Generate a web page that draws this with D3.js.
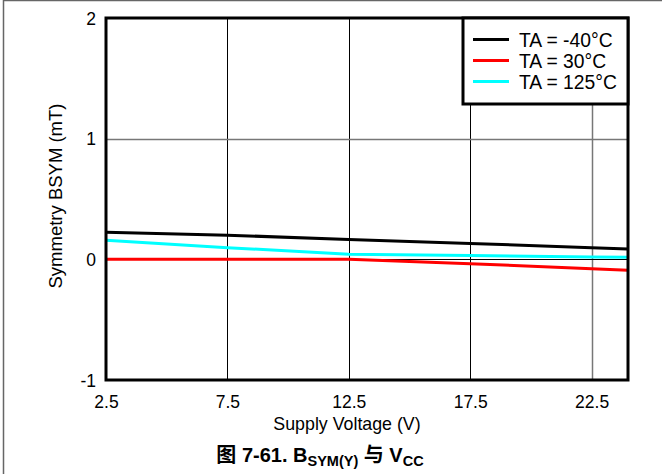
<!DOCTYPE html>
<html>
<head>
<meta charset="utf-8">
<script src="https://cdn.jsdelivr.net/npm/d3@7"></script>
<style>
  body { margin: 0; background: #fff; }
  svg { display: block; font-family: "Liberation Sans", Arial, sans-serif; }
</style>
</head>
<body>
<div class="chartdiv"></div>
<script>
// supply voltage points (V)
const vcc = [2.5, 7.5, 12.5, 17.5, 22.5, 24]
// symmetry BSYM (mT) per temperature
const symM40 = [0.225, 0.200, 0.165, 0.132, 0.095, 0.085]
const sym30 = [0.0, 0.0, 0.0, -0.036, -0.078, -0.090]
const sym125 = [0.158, 0.097, 0.042, 0.032, 0.020, 0.018]

const seriesNames = ['TA = -40°C', 'TA = 30°C', 'TA = 125°C']
const seriesColors = ['#000000', '#ff0000', '#00ffff']
const xTicks = [2.5, 7.5, 12.5, 17.5, 22.5]
const yTicks = [-1, 0, 1, 2]

let w = 662, h = 474
let pLeft = 106, pRight = 628, pTop = 18, pBottom = 380

let svg = d3.select('.chartdiv').append('svg')
    .attr('width', w)
    .attr('height', h)

// outer figure frame (left and top edges only visible)
svg.append('path')
    .attr('d', 'M3.5,' + h + ' V0.5 H' + w)
    .attr('fill', 'none')
    .attr('stroke', '#666')
    .attr('stroke-width', 1.5)

let xScale = d3.scaleLinear().domain([2.5, 24]).range([pLeft, pRight])
let yScale = d3.scaleLinear().domain([-1, 2]).range([pBottom, pTop])

// grid lines
let grid = svg.append('g').attr('class', 'grid')
grid.selectAll('.vgrid')
    .data(xTicks.slice(1))
    .enter()
    .append('line')
    .attr('x1', d => Math.round(xScale(d)) + 0.5)
    .attr('x2', d => Math.round(xScale(d)) + 0.5)
    .attr('y1', pTop)
    .attr('y2', pBottom)
    .attr('stroke', d => d == 22.5 ? '#777' : '#000')
    .attr('stroke-width', d => d == 22.5 ? 1.5 : 1)

grid.selectAll('.hgrid')
    .data([0, 1])
    .enter()
    .append('line')
    .attr('x1', pLeft)
    .attr('x2', pRight)
    .attr('y1', d => Math.round(yScale(d)) + 0.5)
    .attr('y2', d => Math.round(yScale(d)) + 0.5)
    .attr('stroke', d => d == 1 ? '#777' : '#000')
    .attr('stroke-width', d => d == 1 ? 1.5 : 1)

// data lines
let allSeries = [symM40, sym30, sym125]
let line = d3.line()
    .x((d, i) => xScale(vcc[i]))
    .y(d => yScale(d))

// draw red first, then cyan, then black on top
;[1, 2, 0].forEach(k => {
    svg.append('path')
        .datum(allSeries[k])
        .attr('fill', 'none')
        .attr('stroke', seriesColors[k])
        .attr('stroke-width', 3)
        .attr('d', line)
})

// plot frame
svg.append('rect')
    .attr('x', pLeft)
    .attr('y', pTop)
    .attr('width', pRight - pLeft)
    .attr('height', pBottom - pTop)
    .attr('fill', 'none')
    .attr('stroke', '#000')
    .attr('stroke-width', 3)

// axes (labels only, frame drawn above)
let xAxis = d3.axisBottom(xScale).tickValues(xTicks).tickSize(0).tickPadding(0)
    .tickFormat(d3.format('.1f'))
let gx = svg.append('g')
    .attr('transform', 'translate(0,' + pBottom + ')')
    .call(xAxis)
gx.select('.domain').remove()
gx.selectAll('text')
    .attr('y', 28)
    .attr('dy', 0)
    .style('font-family', '"Liberation Sans", Arial, sans-serif')
    .style('font-size', '17.5px')
    .attr('fill', '#000')

// plain hyphen for negatives, as in the original
let yAxis = d3.axisLeft(yScale).tickValues(yTicks).tickSize(0).tickPadding(0)
    .tickFormat(d => String(d))
let gy = svg.append('g')
    .attr('transform', 'translate(' + pLeft + ',0)')
    .call(yAxis)
gy.select('.domain').remove()
gy.selectAll('text')
    .attr('x', -10)
    .attr('dy', '0.36em')
    .style('font-family', '"Liberation Sans", Arial, sans-serif')
    .style('font-size', '17.5px')
    .attr('fill', '#000')

// axis titles
svg.append('text')
    .attr('x', 347)
    .attr('y', 430)
    .attr('text-anchor', 'middle')
    .style('font-size', '17.8px')
    .text('Supply Voltage (V)')

svg.append('text')
    .attr('transform', 'translate(62,' + 196 + ') rotate(-90)')
    .attr('text-anchor', 'middle')
    .style('font-size', '18.5px')
    .text('Symmetry BSYM (mT)')

// legend
let lg = svg.append('g').attr('class', 'legend')
lg.append('rect')
    .attr('x', 463)
    .attr('y', pTop)
    .attr('width', pRight - 463)
    .attr('height', 86)
    .attr('fill', '#fff')
    .attr('stroke', '#000')
    .attr('stroke-width', 3)
let rowY = [39.5, 60.5, 81.5]
seriesNames.forEach((name, i) => {
    lg.append('line')
        .attr('x1', 473)
        .attr('x2', 509)
        .attr('y1', rowY[i])
        .attr('y2', rowY[i])
        .attr('stroke', seriesColors[i])
        .attr('stroke-width', 3)
    lg.append('text')
        .attr('x', 519)
        .attr('y', rowY[i] + 7)
        .style('font-size', '19.3px')
        .text(name)
})

// figure caption
let cap = svg.append('text')
    .attr('x', 320)
    .attr('y', 462)
    .attr('text-anchor', 'middle')
    .style('font-weight', 'bold')
    .style('font-size', '20px')
    .style('font-family', '"Liberation Sans", "Noto Sans CJK SC", sans-serif')
cap.append('tspan').text('图 7-61. B')
cap.append('tspan').attr('dy', 4).style('font-size', '14.5px').text('SYM(Y)')
cap.append('tspan').attr('dy', -4).text(' 与 V')
cap.append('tspan').attr('dy', 4).style('font-size', '14.5px').text('CC')
</script>
</body>
</html>
